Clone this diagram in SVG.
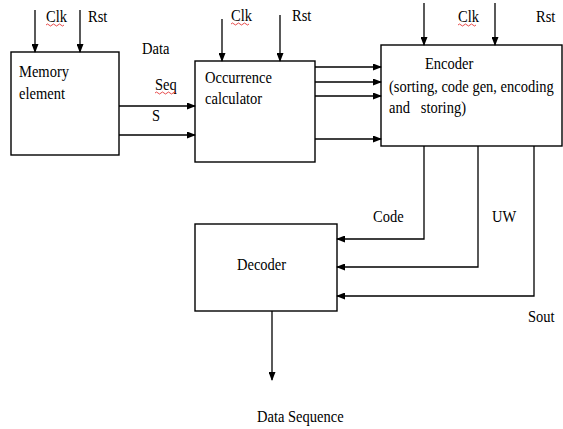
<svg xmlns="http://www.w3.org/2000/svg" width="563" height="429" viewBox="0 0 563 429">
<style>
.box{fill:#fff;stroke:#000;stroke-width:1.4}
.ln{fill:none;stroke:#000;stroke-width:1.3}
.ar{marker-end:url(#ah)}
text{font-family:"Liberation Serif","Times New Roman",serif;font-size:16.5px;fill:#000}
.sq{fill:none;stroke:#d00;stroke-width:0.7}
</style>
<defs>
<marker id="ah" markerWidth="9" markerHeight="7" refX="8" refY="3.5" orient="auto" markerUnits="userSpaceOnUse">
<path d="M0,0 L9,3.5 L0,7 Z" fill="#000"/>
</marker>
</defs>
<rect width="563" height="429" fill="#fff"/>
<g id="memory">
<rect class="box" x="11" y="52" width="108" height="103"/>
<text transform="translate(19,77) scale(0.88,1)">Memory</text>
<text transform="translate(19,99) scale(0.88,1)">element</text>
</g>
<g id="occurrence">
<rect class="box" x="195" y="61" width="120" height="101"/>
<text transform="translate(205,83) scale(0.88,1)">Occurrence</text>
<text transform="translate(205,104) scale(0.88,1)">calculator</text>
</g>
<g id="encoder">
<rect class="box" x="381" y="45" width="181" height="101"/>
<text transform="translate(425,69) scale(0.88,1)">Encoder</text>
<text transform="translate(389,92) scale(0.88,1)">(sorting, code gen, encoding</text>
<text transform="translate(389,113) scale(0.88,1)" xml:space="preserve">and   storing)</text>
</g>
<g id="decoder">
<rect class="box" x="195" y="224" width="142" height="87"/>
<text transform="translate(237,270) scale(0.88,1)">Decoder</text>
</g>
<g id="connectors">
<line class="ln ar" x1="35" y1="10" x2="35" y2="52"/>
<line class="ln ar" x1="80" y1="10" x2="80" y2="52"/>
<line class="ln ar" x1="222" y1="19" x2="222" y2="61"/>
<line class="ln ar" x1="280" y1="15" x2="280" y2="61"/>
<line class="ln ar" x1="424" y1="3" x2="424" y2="45"/>
<line class="ln ar" x1="495" y1="3" x2="495" y2="45"/>
<line class="ln ar" x1="119" y1="106" x2="195" y2="106"/>
<line class="ln ar" x1="119" y1="135" x2="195" y2="135"/>
<line class="ln ar" x1="315" y1="67" x2="381" y2="67"/>
<line class="ln ar" x1="315" y1="82" x2="381" y2="82"/>
<line class="ln ar" x1="315" y1="96" x2="381" y2="96"/>
<line class="ln ar" x1="315" y1="139" x2="381" y2="139"/>
<polyline class="ln ar" points="424,146 424,239 337,239"/>
<polyline class="ln ar" points="478,146 478,267 337,267"/>
<polyline class="ln ar" points="534,146 534,296 337,296"/>
<line class="ln ar" x1="272" y1="311" x2="272" y2="380"/>
</g>
<g id="labels">
<text transform="translate(46,22) scale(0.88,1)">Clk</text>
<path class="sq" d="M46,25 q1.5,-2 3,0 t3,0 t3,0 t3,0 t3,0 t3,0"/>
<text transform="translate(88,22) scale(0.88,1)">Rst</text>
<text transform="translate(142,54) scale(0.88,1)">Data</text>
<text transform="translate(155,90) scale(0.88,1)">Seq</text>
<path class="sq" d="M155,93 q1.5,-2 3,0 t3,0 t3,0 t3,0 t3,0 t3,0 t3,0"/>
<text transform="translate(152,121) scale(0.88,1)">S</text>
<text transform="translate(231,21) scale(0.88,1)">Clk</text>
<path class="sq" d="M231,24 q1.5,-2 3,0 t3,0 t3,0 t3,0 t3,0 t3,0"/>
<text transform="translate(292,21) scale(0.88,1)">Rst</text>
<text transform="translate(458,22) scale(0.88,1)">Clk</text>
<path class="sq" d="M458,25 q1.5,-2 3,0 t3,0 t3,0 t3,0 t3,0 t3,0"/>
<text transform="translate(536,22) scale(0.88,1)">Rst</text>
<text transform="translate(373,222) scale(0.88,1)">Code</text>
<text transform="translate(492,222) scale(0.88,1)">UW</text>
<text transform="translate(528,322) scale(0.88,1)">Sout</text>
<text transform="translate(257,422) scale(0.88,1)">Data Sequence</text>
</g>
</svg>
